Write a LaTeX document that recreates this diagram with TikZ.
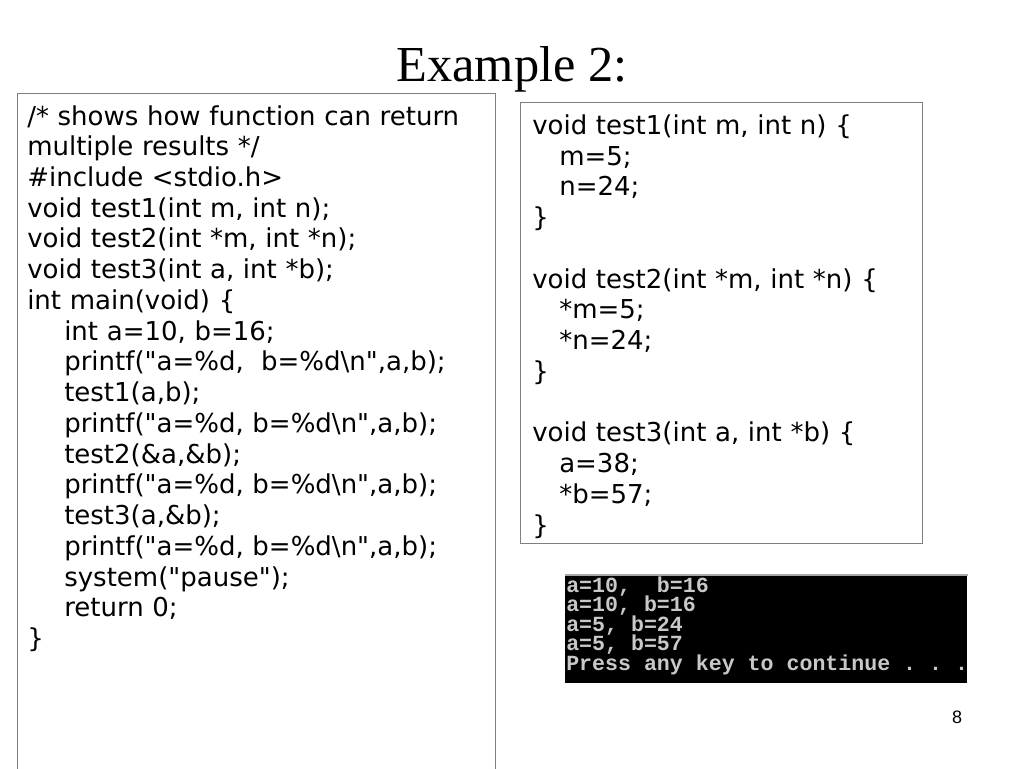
\documentclass[tikz,border=0pt]{standalone}
\usepackage{fontspec}
\setmainfont{DejaVu Sans}[Ligatures=TeXOff]
\newfontfamily\titlefont{Liberation Serif}
\newfontfamily\slidefont{Liberation Sans}
\newfontfamily\consolefont{Liberation Mono}[Ligatures=TeXOff]
\usetikzlibrary{positioning}
\definecolor{boxgray}{HTML}{7F7F7F}
\definecolor{consolegray}{HTML}{C8C8C8}
\definecolor{edgegray}{HTML}{A8A8A8}
\newcommand{\codeindent}{\hspace*{27.75pt}}
\newcommand{\rindent}{\hspace*{20.25pt}}
\newcommand{\consolesetup}{\consolefont\bfseries\fontsize{16.2}{14.7}\selectfont
  \lineskiplimit=-100pt\relax}
\newcommand{\monospaces}{\spaceskip=0.6em\relax\xspaceskip=0.6em\relax}

\begin{document}
\begin{tikzpicture}[
    x=0.75pt, y=-0.75pt,
    codebox/.style={rectangle, draw=boxgray, line width=1.1pt, anchor=north west, inner sep=0pt},
    codetext/.style={anchor=base west, inner sep=0pt, align=left, text width=330pt, font=\fontsize{19.5}{23.05}\selectfont},
    console/.style={rectangle, fill=black, anchor=north west, inner sep=0pt, minimum width=301.5pt, minimum height=81pt},
    consoletext/.style={anchor=base west, inner sep=0pt, align=left, text width=340pt, text=consolegray, font=\consolesetup}
]
\useasboundingbox (0,0) rectangle (1024,768);

% Title and page number
\node[font=\titlefont\fontsize{37.8}{40}\selectfont, anchor=base] (title) at (512,81) {Example 2:};
\node[font=\slidefont\fontsize{13.5}{16}\selectfont, anchor=base] (pagenum) at (957,723) {8};

% Boxes
\node[codebox, minimum width=358.5pt, minimum height=530pt] (mainbox) at (17,93) {};
\node[codebox, minimum width=301.5pt, minimum height=330.75pt] (funcbox) at (520,102) {};

% main program
\node[codetext] (maincode) at (27,125) {/* shows how function can return\\
multiple results */\\
\#include <stdio.h>\\
void test1(int m, int n);\\
void test2(int *m, int *n);\\
void test3(int a, int *b);\\
int main(void) \{\\
\codeindent int a=10, b=16;\\
\codeindent printf("a=\%d,\ \ b=\%d\textbackslash n",a,b);\\
\codeindent test1(a,b);\\
\codeindent printf("a=\%d, b=\%d\textbackslash n",a,b);\\
\codeindent test2(\&a,\&b);\\
\codeindent printf("a=\%d, b=\%d\textbackslash n",a,b);\\
\codeindent test3(a,\&b);\\
\codeindent printf("a=\%d, b=\%d\textbackslash n",a,b);\\
\codeindent system("pause");\\
\codeindent return 0;\\
\}};

% functions
\node[codetext] (funccode) at (532,134.5) {void test1(int m, int n) \{\\
\rindent m=5;\\
\rindent n=24;\\
\}\\
\mbox{}\\
void test2(int *m, int *n) \{\\
\rindent *m=5;\\
\rindent *n=24;\\
\}\\
\mbox{}\\
void test3(int a, int *b) \{\\
\rindent a=38;\\
\rindent *b=57;\\
\}};

% Console output
\node[console] (screen) at (565,575) {};
\draw[edgegray, line width=1.5pt] (screen.north west) -- (screen.north east);
\node[consoletext] (output) at (566,592) {\monospaces a=10,\ \ b=16\\
a=10, b=16\\
a=5, b=24\\
a=5, b=57\\
Press any key to continue . . .};

\end{tikzpicture}
\end{document}
